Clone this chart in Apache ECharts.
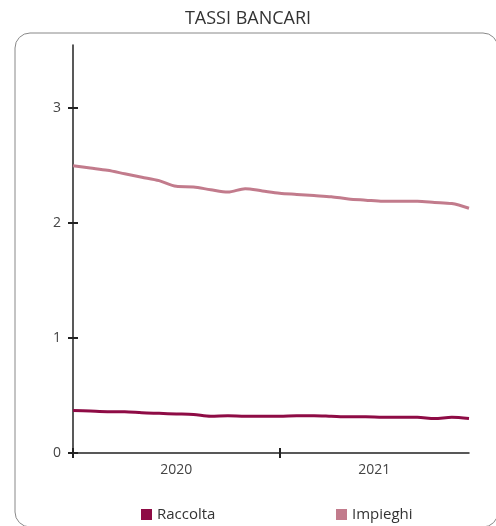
<!DOCTYPE html>
<html>
<head>
<meta charset="utf-8">
<script src="https://cdn.jsdelivr.net/npm/echarts@6/dist/echarts.min.js"></script>
<style>html,body{margin:0;padding:0;background:#fff}#c{width:496px;height:526px}</style>
</head>
<body>
<div id="c"></div>
<script>
// month index 0 = Jan 2020 ... 23 = Dec 2021
var months = [0,1,2,3,4,5,6,7,8,9,10,11,12,13,14,15,16,17,18,19,20,21,22,23];
var raccolta = [0.37,0.365,0.36,0.36,0.35,0.345,0.34,0.335,0.32,0.325,0.32,0.32,0.32,0.325,0.325,0.32,0.315,0.315,0.31,0.31,0.31,0.30,0.31,0.30];
var impieghi = [2.50,2.48,2.46,2.43,2.40,2.37,2.32,2.315,2.29,2.27,2.30,2.28,2.26,2.25,2.24,2.23,2.21,2.20,2.19,2.19,2.19,2.18,2.17,2.13];
var yearLabels = ['2020','2021'];
var yearLabelPos = [6, 17.5];
var yTicks = [0,1,2,3];
var xTicks = [0,12];

var font = '"Open Sans", "Noto Sans", sans-serif';
var chart = echarts.init(document.getElementById('c'));
function pairs(v){ return months.map(function(m,i){ return [m, v[i]]; }); }
var axisLineStyle = {color:'#222', width:1.5};
var tickStyle = {color:'#222', width:2};
chart.setOption({
  animation:false,
  title:{text:'TASSI BANCARI', left:'center', top:5, textStyle:{fontFamily:font, fontSize:18, fontWeight:'normal', color:'#333'}},
  graphic:[{type:'rect', shape:{x:15, y:33, width:483, height:494, r:15}, style:{fill:'none', stroke:'#888', lineWidth:1}, z:-1}],
  grid:{left:73, right:27, top:45, bottom:73},
  legend:[
    {data:['Raccolta'], left:136, top:502, icon:'rect', itemWidth:11, itemHeight:11, itemGap:6, textStyle:{fontFamily:font, fontSize:15, color:'#333'}},
    {data:['Impieghi'], left:331, top:502, icon:'rect', itemWidth:11, itemHeight:11, itemGap:6, textStyle:{fontFamily:font, fontSize:15, color:'#333'}}
  ],
  xAxis:[
    {type:'value', min:0, max:23, splitLine:{show:false},
     axisLine:{show:true, onZero:false, lineStyle:axisLineStyle},
     axisTick:{show:true, length:5, customValues:xTicks, lineStyle:tickStyle},
     axisLabel:{customValues:yearLabelPos, margin:10, fontFamily:font, fontSize:14, color:'#444',
       formatter:function(v){ var i=yearLabelPos.indexOf(v); return i>=0?yearLabels[i]:''; }}},
    {type:'value', min:0, max:23, position:'bottom', splitLine:{show:false},
     axisLine:{show:false}, axisLabel:{show:false},
     axisTick:{show:true, inside:true, length:5, customValues:xTicks, lineStyle:tickStyle}}
  ],
  yAxis:[
    {type:'value', min:0, max:3.55, splitLine:{show:false},
     axisLine:{show:true, lineStyle:axisLineStyle},
     axisTick:{show:true, length:5, customValues:yTicks, lineStyle:tickStyle},
     axisLabel:{customValues:yTicks, margin:12, fontFamily:font, fontSize:14, color:'#444'}},
    {type:'value', min:0, max:3.55, position:'left', splitLine:{show:false},
     axisLine:{show:false}, axisLabel:{show:false},
     axisTick:{show:true, inside:true, length:5, customValues:yTicks, lineStyle:tickStyle}}
  ],
  series:[
    {name:'Raccolta', type:'line', data:pairs(raccolta), showSymbol:false, smooth:0.3, color:'#8E0B45', lineStyle:{width:3, color:'#8E0B45'}},
    {name:'Impieghi', type:'line', data:pairs(impieghi), showSymbol:false, smooth:0.3, color:'#C27B8C', lineStyle:{width:3, color:'#C27B8C'}}
  ]
});
</script>
</body>
</html>
